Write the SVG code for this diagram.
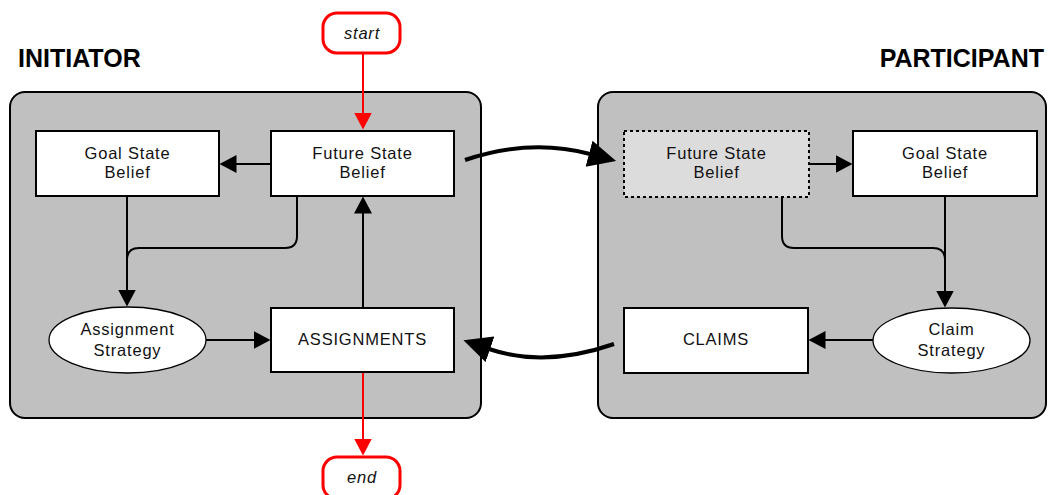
<svg xmlns="http://www.w3.org/2000/svg" width="1048" height="495" viewBox="0 0 1048 495">
  <style>
    .panel { fill: #c0c0c0; stroke: #000; stroke-width: 2; }
    .box { fill: #fff; stroke: #000; stroke-width: 2; }
    .ghost { fill: #dcdcdc; stroke: #000; stroke-width: 2; stroke-dasharray: 3 3; }
    .oval { fill: #fff; stroke: #000; stroke-width: 1.3; }
    .term { fill: #fff; stroke: #ff0000; stroke-width: 3; }
    .lbl { font-family: "Liberation Sans", Arial, sans-serif; font-size: 16.5px; letter-spacing: 0.8px; fill: #111; text-anchor: middle; }
    .it { font-style: italic; }
    .title { font-family: "Liberation Sans", Arial, sans-serif; font-size: 25px; font-weight: bold; fill: #000; }
    .link { fill: none; stroke: #000; stroke-width: 2; }
    .flow { fill: none; stroke: #ff0000; stroke-width: 2; }
    .msg { fill: none; stroke: #000; stroke-width: 4; }
  </style>
  <defs>
    <marker id="arr" markerUnits="userSpaceOnUse" markerWidth="18" markerHeight="18" refX="0.5" refY="9" orient="auto">
      <path d="M0,0 L17,9 L0,18 z" fill="#000"/>
    </marker>
    <marker id="arrRed" markerUnits="userSpaceOnUse" markerWidth="18" markerHeight="18" refX="0.5" refY="9" orient="auto">
      <path d="M0,0 L17,9 L0,18 z" fill="#ff0000"/>
    </marker>
    <marker id="big" markerUnits="userSpaceOnUse" markerWidth="30" markerHeight="28" refX="1" refY="13.5" orient="auto">
      <path d="M0,0 L28,13.5 L0,27 z" fill="#000"/>
    </marker>
  </defs>

  <!-- role headings -->
  <text class="title" x="18" y="67">INITIATOR</text>
  <text class="title" x="1044" y="67" text-anchor="end">PARTICIPANT</text>

  <!-- containers -->
  <rect id="initiator" class="panel" x="10" y="92" width="471" height="326" rx="15"/>
  <rect id="participant" class="panel" x="598" y="92" width="448" height="326" rx="15"/>

  <!-- connectors -->
  <g id="connectors">
    <path class="link" d="M271,164 H236" marker-end="url(#arr)"/>
    <path class="link" d="M127,196 V290" marker-end="url(#arr)"/>
    <path class="link" d="M297,196 V236 Q297,248 285,248 H139 Q127,248 127,260"/>
    <path class="link" d="M363,308 V213" marker-end="url(#arr)"/>
    <path class="link" d="M206,340 H254" marker-end="url(#arr)"/>
    <path class="flow" d="M363,53 V113" marker-end="url(#arrRed)"/>
    <path class="flow" d="M363,372 V439" marker-end="url(#arrRed)"/>
    <path class="link" d="M809,164 H836" marker-end="url(#arr)"/>
    <path class="link" d="M945,196 V291" marker-end="url(#arr)"/>
    <path class="link" d="M782,197 V236 Q782,248 794,248 H933 Q945,248 945,260"/>
    <path class="link" d="M873,340 H825" marker-end="url(#arr)"/>
    <path class="msg" d="M465,160 Q530,138 590,154" marker-end="url(#big)"/>
    <path class="msg" d="M614,344 Q545,368 489,349" marker-end="url(#big)"/>
  </g>

  <!-- initiator nodes -->
  <g id="start">
    <rect class="term" x="323" y="13" width="77" height="40" rx="14"/>
    <text class="lbl it" x="362" y="39">start</text>
  </g>
  <g id="end">
    <rect class="term" x="323" y="457" width="77" height="42" rx="14"/>
    <text class="lbl it" x="362" y="483">end</text>
  </g>
  <g id="init-goal">
    <rect class="box" x="36" y="131" width="183" height="65"/>
    <text class="lbl" x="127.5" y="158.5">Goal State</text>
    <text class="lbl" x="127.5" y="178">Belief</text>
  </g>
  <g id="init-future">
    <rect class="box" x="271" y="131" width="183" height="65"/>
    <text class="lbl" x="362.5" y="158.5">Future State</text>
    <text class="lbl" x="362.5" y="178">Belief</text>
  </g>
  <g id="assign-strategy">
    <ellipse class="oval" cx="127.5" cy="340" rx="78.5" ry="33"/>
    <text class="lbl" x="127.5" y="335">Assignment</text>
    <text class="lbl" x="127.5" y="356">Strategy</text>
  </g>
  <g id="assignments">
    <rect class="box" x="271" y="308" width="183" height="64"/>
    <text class="lbl" x="362.5" y="345">ASSIGNMENTS</text>
  </g>

  <!-- participant nodes -->
  <g id="part-future">
    <rect class="ghost" x="624" y="131" width="185" height="66"/>
    <text class="lbl" x="716.5" y="158.5">Future State</text>
    <text class="lbl" x="716.5" y="178">Belief</text>
  </g>
  <g id="part-goal">
    <rect class="box" x="853" y="131" width="184" height="65"/>
    <text class="lbl" x="945" y="158.5">Goal State</text>
    <text class="lbl" x="945" y="178">Belief</text>
  </g>
  <g id="claims">
    <rect class="box" x="624" y="308" width="184" height="65"/>
    <text class="lbl" x="716" y="345">CLAIMS</text>
  </g>
  <g id="claim-strategy">
    <ellipse class="oval" cx="951.5" cy="340.5" rx="78.5" ry="32.5"/>
    <text class="lbl" x="951.5" y="335">Claim</text>
    <text class="lbl" x="951.5" y="356">Strategy</text>
  </g>
</svg>
